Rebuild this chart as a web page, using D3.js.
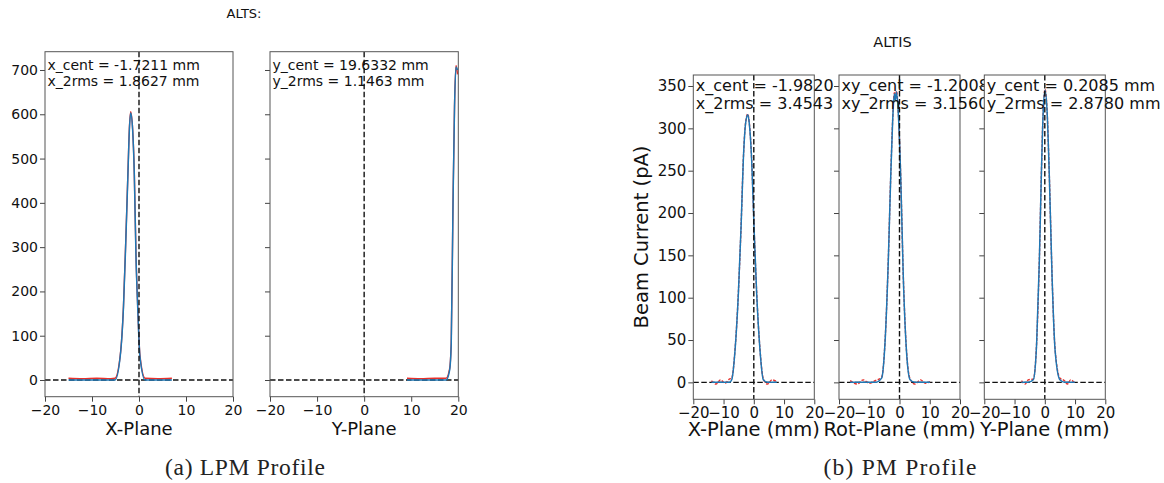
<!DOCTYPE html>
<html>
<head>
<meta charset="utf-8">
<script src="https://cdn.jsdelivr.net/npm/d3@7"></script>
<style>
    body { margin: 0; background: #fff; }
    svg { font-family: "DejaVu Sans", sans-serif; }
</style>
</head>
<body>
<svg id="chart" width="1164" height="483"></svg>
<script>
// Tick values
const xTicks = [-20, -10, 0, 10, 20];
const lpmYTicks = [0, 100, 200, 300, 400, 500, 600, 700];
const pmYTicks = [0, 50, 100, 150, 200, 250, 300, 350];

// LPM X-Plane profile
const lpmX_pos = [-15, -12, -9, -6, -5.1, -4.0, -3.3, -2.8, -2.35, -2.05, -1.77, -1.35, -1.0, -0.64, -0.28, 0.2, 1.3, 4, 7];
const lpmX_fit = [0, 0, 0, 0, 0, 53, 165, 316, 466, 564, 603, 564, 466, 278, 165, 53, 0, 0, 0];
const lpmX_raw = [4, 3, 4, 3, 4, 55, 168, 320, 470, 568, 606, 566, 468, 282, 168, 56, 4, 3, 4];

// LPM Y-Plane profile
const lpmY_pos = [9.1, 12, 15, 17.4, 18.15, 18.5, 18.87, 19.2, 19.5, 19.85];
const lpmY_fit = [0, 0, 0, 0, 22, 82, 391, 617, 707, 700];
const lpmY_raw = [4, 3, 4, 4, 25, 85, 395, 620, 710, 690];

// PM X-Plane profile
const pmX_pos = [-14, -12.5, -11, -9.5, -8, -7.3, -6.2, -5.1, -4.2, -3.47, -2.7, -2.0, -1.5, -0.7, 0.07, 0.95, 2.05, 3.15, 4.5, 6, 7.6];
const pmX_fit = [0, 0, 0, 0, 0, 3, 38, 105, 184, 262, 306, 316, 306, 262, 184, 105, 38, 3, 0, 0, 0];
const pmX_raw = [2, -2, 3, -1, 4, 5, 39, 106, 185, 263, 307, 317, 307, 263, 185, 106, 39, 4, -2, 3, 1];

// PM Rot-Plane profile
const pmR_pos = [-16.3, -14, -12, -10, -8, -5.9, -4.8, -3.7, -2.9, -2.25, -1.7, -1.4, -1.0, -0.4, 0.4, 1.25, 2.15, 3.5, 5, 7, 8.5, 10.1];
const pmR_fit = [0, 0, 0, 0, 0, 5, 46, 144, 243, 310, 341, 333, 343, 318, 243, 125, 46, 3, 0, 0, 0, 0];
const pmR_raw = [2, -2, 3, -1, 2, 6, 47, 145, 244, 311, 342, 334, 344, 319, 244, 126, 47, 4, -2, 3, -1, 1];

// PM Y-Plane profile
const pmY_pos = [-7.7, -6.5, -5.5, -3.8, -2.7, -1.8, -1.15, -0.5, 0.07, 0.73, 1.5, 2.4, 3.4, 5.0, 6.5, 7.5, 8.5, 9.9];
const pmY_fit = [0, 0, 0, 3, 46, 144, 243, 322, 345, 322, 243, 125, 38, 3, 0, 0, 0, 0];
const pmY_raw = [2, -2, 3, 4, 47, 145, 244, 323, 346, 323, 244, 126, 39, 5, 2, -2, 3, -1];

// Annotation texts
const lpmNotes = [["x_cent = -1.7211 mm", "x_2rms = 1.8627 mm"], ["y_cent = 19.6332 mm", "y_2rms = 1.1463 mm"]];
const pmNotes = [["x_cent = -1.9820 mm", "x_2rms = 3.4543 mm"], ["xy_cent = -1.2008 mm", "xy_2rms = 3.1560 mm"], ["y_cent = 0.2085 mm", "y_2rms = 2.8780 mm"]];

const svg = d3.select("#chart");
const fmt = d => d < 0 ? "\u2212" + Math.abs(d) : "" + d;

function drawPanel(p) {
    const g = svg.append("g");
    const x = d3.scaleLinear().domain([-20, 20]).range([p.x0, p.x1]);
    const y = d3.scaleLinear().domain(p.ydom).range([p.y1, p.y0]);

    // White background, covers overflowing text from the previous panel
    g.append("rect")
        .attr("x", p.x0).attr("y", p.y0)
        .attr("width", p.x1 - p.x0).attr("height", p.y1 - p.y0)
        .attr("fill", "#fff");

    const clipId = "clip" + p.id;
    g.append("clipPath").attr("id", clipId)
        .append("rect")
        .attr("x", p.x0).attr("y", p.y0)
        .attr("width", p.x1 - p.x0).attr("height", p.y1 - p.y0);

    const plot = g.append("g").attr("clip-path", "url(#" + clipId + ")");

    // Zero lines
    plot.append("line")
        .attr("x1", p.x0).attr("x2", p.x1)
        .attr("y1", y(0)).attr("y2", y(0))
        .attr("stroke", "#111").attr("stroke-width", 1.4)
        .attr("stroke-dasharray", "5.5,2.5");

    const line = d3.line()
        .curve(d3.curveMonotoneX)
        .x(d => x(d[0]))
        .y(d => y(d[1]));

    plot.append("path")
        .datum(d3.zip(p.pos, p.raw))
        .attr("d", line)
        .attr("fill", "none")
        .attr("stroke", "#e8302a").attr("stroke-width", 1.4)
        .attr("stroke-dasharray", p.rawDash);
    plot.append("path")
        .datum(d3.zip(p.pos, p.fit))
        .attr("d", line)
        .attr("fill", "none")
        .attr("stroke", "#1f77b4").attr("stroke-width", 1.5);

    plot.append("line")
        .attr("x1", x(0)).attr("x2", x(0))
        .attr("y1", p.y0).attr("y2", p.y1)
        .attr("stroke", "#111").attr("stroke-width", 1.4)
        .attr("stroke-dasharray", "5.5,2.5");

    // Axes
    const xa = g.append("g")
        .attr("transform", "translate(0," + p.y1 + ")")
        .call(d3.axisBottom(x).tickValues(xTicks).tickFormat(fmt).tickSize(5).tickPadding(3));
    const ya = g.append("g")
        .attr("transform", "translate(" + p.x0 + ",0)")
        .call(d3.axisLeft(y).tickValues(p.yticks).tickFormat(p.showY ? fmt : "").tickSize(5).tickPadding(2));
    [xa, ya].forEach(a => {
        a.select(".domain").remove();
        a.selectAll("line").attr("stroke", "#444");
        a.selectAll("text")
            .attr("fill", "#111")
            .style("font-size", p.tickFont + "px")
            .style("font-family", "DejaVu Sans");
    });

    // Frame
    g.append("rect")
        .attr("x", p.x0).attr("y", p.y0)
        .attr("width", p.x1 - p.x0).attr("height", p.y1 - p.y0)
        .attr("fill", "none").attr("stroke", "#555").attr("stroke-width", 1);

    // x label
    g.append("text")
        .attr("x", (p.x0 + p.x1) / 2).attr("y", p.xlabY)
        .attr("text-anchor", "middle")
        .style("font-size", p.labFont + "px")
        .attr("fill", "#111")
        .text(p.xlabel);

    // Annotations
    p.notes.forEach((t, i) => {
        g.append("text")
            .attr("x", p.x0 + 2.5).attr("y", p.noteY + i * p.noteGap)
            .style("font-size", p.noteFont + "px")
            .attr("fill", "#111")
            .text(t);
    });
}

// Left figure (LPM)
const lpmCommon = {y0: 51.7, y1: 396.7, ydom: [-37.7, 741.3], yticks: lpmYTicks, tickFont: 14, labFont: 18,
                   xlabY: 435, noteFont: 14, noteY: 70, noteGap: 16, rawDash: null};
drawPanel(Object.assign({}, lpmCommon, {id: 1, x0: 45, x1: 233, pos: lpmX_pos, fit: lpmX_fit, raw: lpmX_raw,
    showY: true, xlabel: "X-Plane", notes: lpmNotes[0]}));
drawPanel(Object.assign({}, lpmCommon, {id: 2, x0: 270, x1: 458.3, pos: lpmY_pos, fit: lpmY_fit, raw: lpmY_raw,
    showY: false, xlabel: "Y-Plane", notes: lpmNotes[1]}));

// Right figure (PM)
const pmCommon = {y0: 75, y1: 399.3, ydom: [-20, 363], yticks: pmYTicks, tickFont: 15, labFont: 19.5,
                  xlabY: 436, noteFont: 16, noteY: 91, noteGap: 17.5, rawDash: "3,1.5"};
drawPanel(Object.assign({}, pmCommon, {id: 3, x0: 693.3, x1: 814.3, pos: pmX_pos, fit: pmX_fit, raw: pmX_raw,
    showY: true, xlabel: "X-Plane (mm)", notes: pmNotes[0]}));
drawPanel(Object.assign({}, pmCommon, {id: 4, x0: 839, x1: 960, pos: pmR_pos, fit: pmR_fit, raw: pmR_raw,
    showY: false, xlabel: "Rot-Plane (mm)", notes: pmNotes[1]}));
drawPanel(Object.assign({}, pmCommon, {id: 5, x0: 984.3, x1: 1105.3, pos: pmY_pos, fit: pmY_fit, raw: pmY_raw,
    showY: false, xlabel: "Y-Plane (mm)", notes: pmNotes[2]}));

// y label for PM
svg.append("text")
    .attr("transform", "translate(648,237) rotate(-90)")
    .attr("text-anchor", "middle")
    .style("font-size", "19.5px")
    .attr("fill", "#111")
    .text("Beam Current (pA)");

// Titles
svg.append("text").attr("x", 244).attr("y", 18).attr("text-anchor", "middle")
    .style("font-size", "13px").attr("fill", "#111").text("ALTS:");
svg.append("text").attr("x", 892.5).attr("y", 46.5).attr("text-anchor", "middle")
    .style("font-size", "14.5px").attr("fill", "#111").text("ALTIS");

// Captions
svg.append("text").attr("x", 245).attr("y", 475).attr("text-anchor", "middle")
    .style("font-family", "Liberation Serif, serif").style("font-size", "23.5px")
    .attr("textLength", 160).attr("fill", "#222").text("(a) LPM Profile");
svg.append("text").attr("x", 900).attr("y", 475).attr("text-anchor", "middle")
    .style("font-family", "Liberation Serif, serif").style("font-size", "23.5px")
    .attr("textLength", 153).attr("fill", "#222").text("(b) PM Profile");
</script>
</body>
</html>
